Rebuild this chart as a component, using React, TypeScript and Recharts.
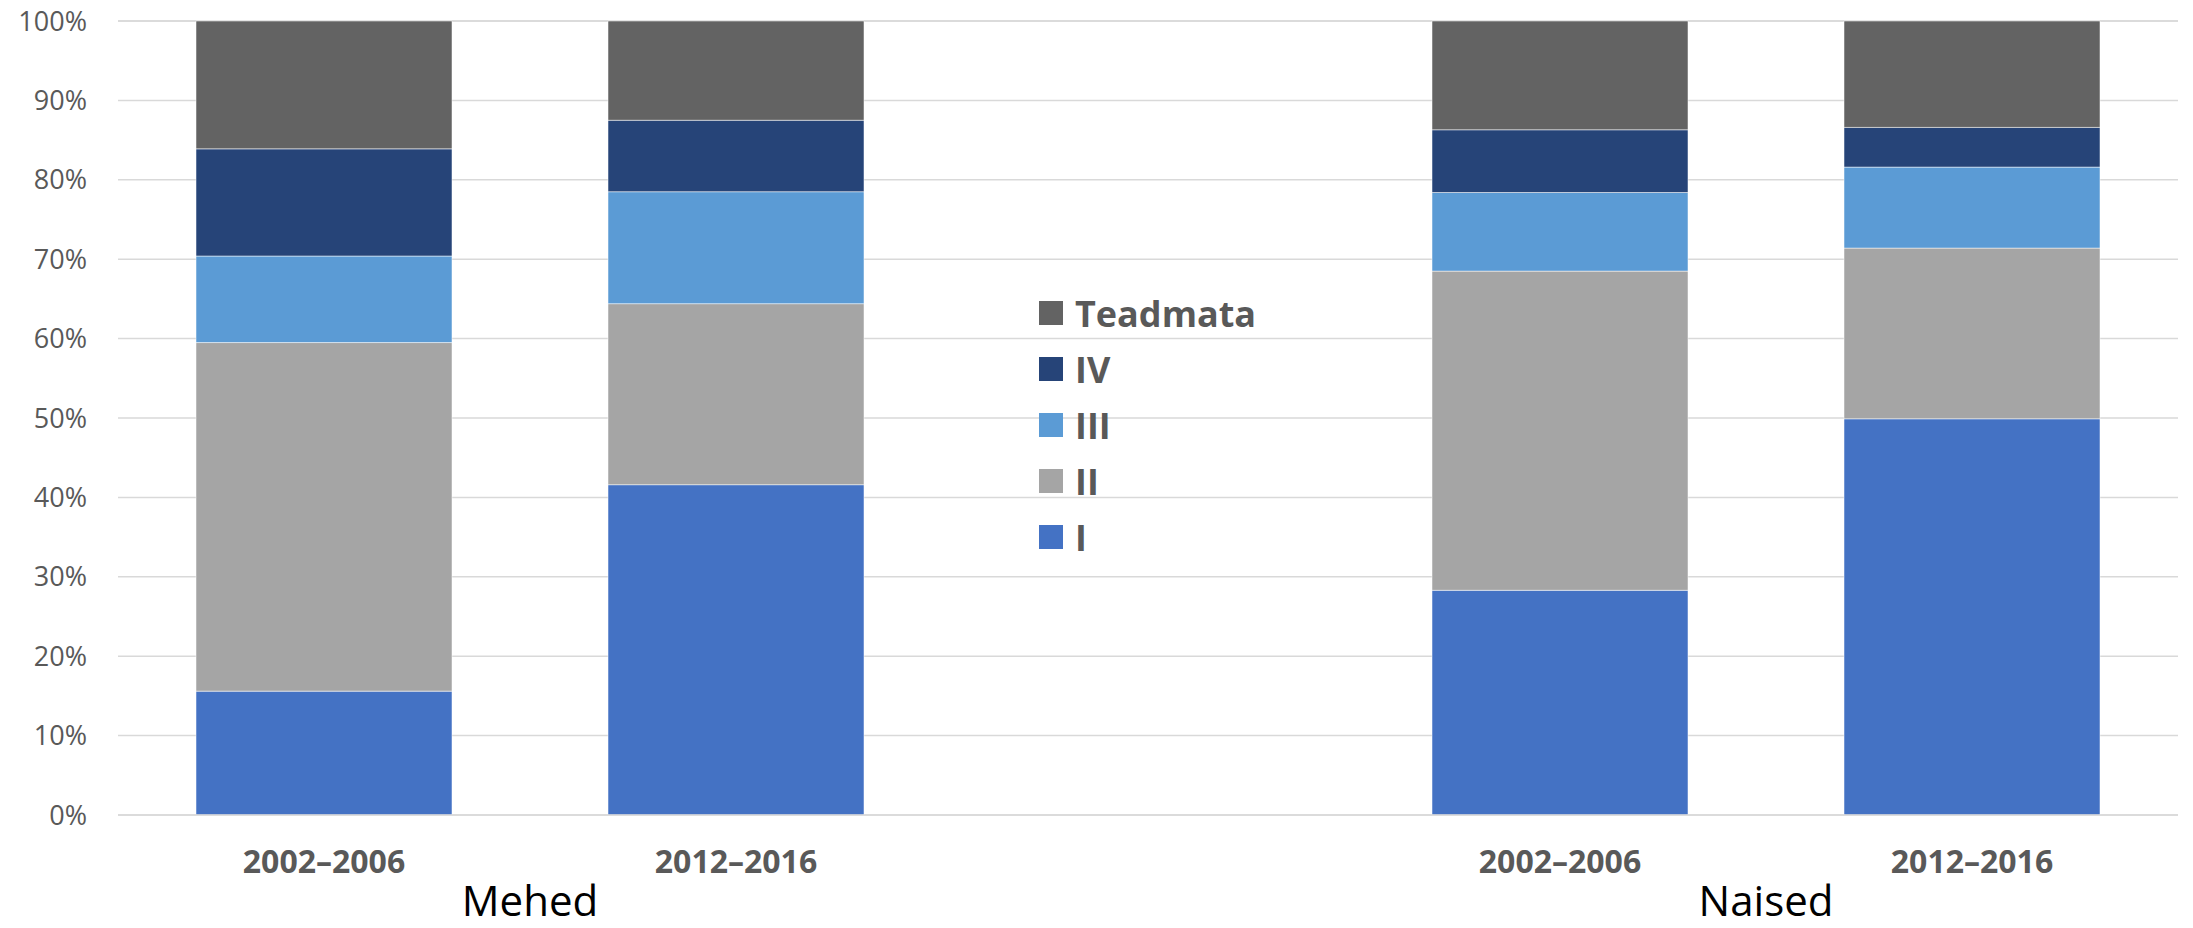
import { BarChart, Bar, XAxis, YAxis, CartesianGrid, Legend } from "recharts";

const periods = ["2002–2006", "2012–2016", "", "2002–2006", "2012–2016"];
const groups = ["Mehed", "Mehed", "", "Naised", "Naised"];

const seriesI = [15.6, 41.6, null, 28.3, 49.9];
const seriesII = [43.9, 22.8, null, 40.2, 21.5];
const seriesIII = [10.9, 14.1, null, 9.9, 10.2];
const seriesIV = [13.5, 9.0, null, 7.9, 5.0];
const seriesTeadmata = [16.1, 12.5, null, 13.7, 13.4];

const yTicks = [0, 10, 20, 30, 40, 50, 60, 70, 80, 90, 100];

const series = [
  { key: "I", values: seriesI, color: "#4472C4" },
  { key: "II", values: seriesII, color: "#A5A5A5" },
  { key: "III", values: seriesIII, color: "#5B9BD5" },
  { key: "IV", values: seriesIV, color: "#264478" },
  { key: "Teadmata", values: seriesTeadmata, color: "#636363" },
];

const data = periods.map((p, i) => {
  const row: any = { id: `c${i}`, period: p, group: groups[i] };
  series.forEach((s) => {
    row[s.key] = s.values[i];
  });
  return row;
});

const FONT = "'Open Sans', 'Noto Sans', sans-serif";
const TEXT = "#595959";

const PeriodTick = (props: any) => {
  const { x, y, payload, index } = props;
  const period = periods[index];
  const group = groups[index];
  const startsGroup = group && groups[index + 1] === group;
  return (
    <g>
      {period && (
        <text
          x={x}
          y={y}
          dy="0.71em"
          textAnchor="middle"
          fill={TEXT}
          fontFamily={FONT}
          fontWeight="bold"
          fontSize={32}
        >
          {period}
        </text>
      )}
      {startsGroup && (
        <text
          x={x + (payload.offset || 0)}
          y={916}
          textAnchor="middle"
          fill="#000"
          fontFamily={FONT}
          fontSize={42}
        >
          {group}
        </text>
      )}
    </g>
  );
};

const LegendContent = (props: any) => {
  const items = [...(props.payload || [])].reverse();
  return (
    <div style={{ fontFamily: FONT }}>
      {items.map((it: any) => (
        <div
          key={it.value}
          style={{ display: "flex", alignItems: "center", height: 56 }}
        >
          <div
            style={{
              width: 24,
              height: 24,
              background: it.color,
              marginRight: 12,
            }}
          />
          <span style={{ color: TEXT, fontWeight: "bold", fontSize: 36 }}>
            {it.value}
          </span>
        </div>
      ))}
    </div>
  );
};

const App = () => {
  return (
    <div style={{ position: "absolute", left: 0, top: 0, background: "#fff" }}>
      <BarChart
        width={2193}
        height={928}
        data={data}
        margin={{ top: 21, right: 15, left: 0, bottom: 0 }}
        barSize={256}
      >
        <CartesianGrid
          vertical={false}
          stroke="#d9d9d9"
          strokeWidth={1.5}
        />
        <XAxis
          dataKey="id"
          height={113}
          axisLine={{ stroke: "#d9d9d9", strokeWidth: 1.5 }}
          tickLine={false}
          tickSize={0}
          tickMargin={35}
          interval={0}
          tick={<PeriodTick />}
        />
        <YAxis
          width={118}
          domain={[0, 100]}
          ticks={yTicks}
          axisLine={false}
          tickLine={false}
          tickSize={0}
          tickMargin={31}
          tickFormatter={(v: number) => `${v}%`}
          tick={{ fill: TEXT, fontFamily: FONT, fontSize: 27 }}
        />
        <Legend
          layout="vertical"
          verticalAlign="middle"
          align="center"
          content={<LegendContent />}
          wrapperStyle={{ left: 1039, top: 285, width: 300 }}
        />
        {series.map((s) => (
          <Bar
            key={s.key}
            dataKey={s.key}
            name={s.key}
            stackId="a"
            fill={s.color}
            stroke="#ffffff"
            strokeOpacity={0.5}
            strokeWidth={1}
            isAnimationActive={false}
          />
        ))}
      </BarChart>
    </div>
  );
};

export default App;
